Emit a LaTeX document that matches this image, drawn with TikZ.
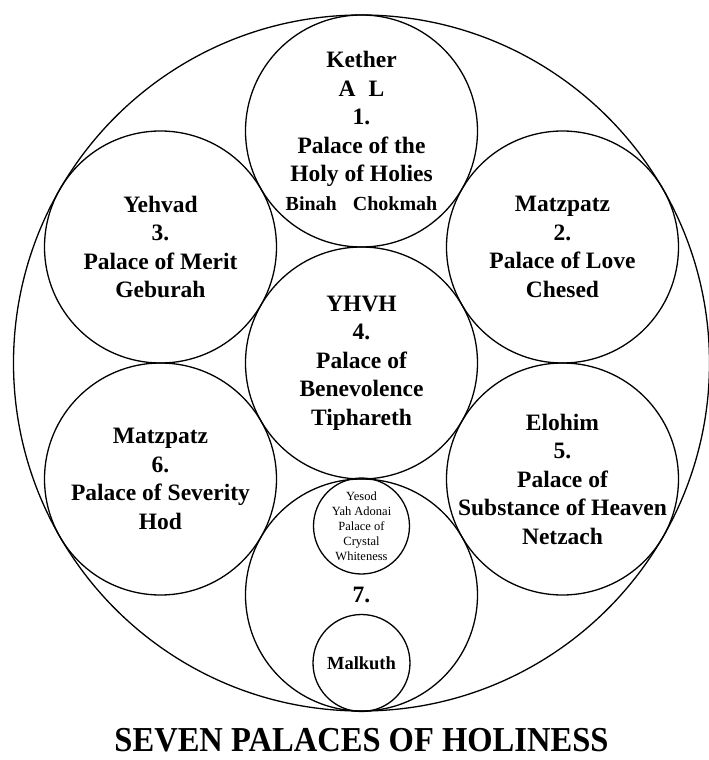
\documentclass[tikz,border=0pt]{standalone}
\usepackage{fontspec}
\setmainfont{Liberation Serif}
\newfontfamily\titlefont{Liberation Serif}[FakeStretch=0.93]

\begin{document}
\begin{tikzpicture}[x=1pt,y=1pt,line width=1.3pt,
  palace/.style={font=\bfseries\fontsize{23.5}{28.5}\selectfont, align=center, inner sep=0pt},
  smalltext/.style={font=\fontsize{12.5}{15}\selectfont, align=center, inner sep=0pt}]

\useasboundingbox (-361.5,-397) rectangle (347.5,363);

\coordinate (o) at (0,0);
\coordinate (p1) at (0,232);
\coordinate (p2) at (201,116);
\coordinate (p3) at (-201,116);
\coordinate (p4) at (0,0);
\coordinate (p5) at (201,-116);
\coordinate (p6) at (-201,-116);
\coordinate (p7) at (0,-232);
\coordinate (yesod) at (0,-163);
\coordinate (malkuth) at (0,-300);

\draw (o) circle (348pt);

\foreach \point in {p1,p2,p3,p4,p5,p6,p7}
  \draw (\point) circle (116pt);

\draw (yesod) circle (48pt);
\draw (malkuth) circle (48.5pt);

\node (t1) at (p1) [palace] {Kether\\A\hspace{0.55em}L\\1.\\Palace of the\\Holy of Holies\\{\fontsize{20}{24}\selectfont Binah\hspace{0.8em}Chokmah}};
\node (t2) at (p2) [palace] {Matzpatz\\2.\\Palace of Love\\Chesed};
\node (t3) at (p3) [palace] {Yehvad\\3.\\Palace of Merit\\Geburah};
\node (t4) at (p4) [palace] {YHVH\\4.\\Palace of\\Benevolence\\Tiphareth};
\node (t5) at (p5) [palace] {Elohim\\5.\\Palace of\\Substance of Heaven\\Netzach};
\node (t6) at (p6) [palace] {Matzpatz\\6.\\Palace of Severity\\Hod};
\node (t7) at (p7) [palace] {7.};
\node (tyesod) at (yesod) [smalltext] {Yesod\\Yah Adonai\\Palace of\\Crystal\\Whiteness};
\node (tmalkuth) at (malkuth) [palace, font=\bfseries\fontsize{18.5}{22}\selectfont] {Malkuth};

\node (title) at (0,-377) {\titlefont\bfseries\fontsize{35}{40}\selectfont SEVEN PALACES OF HOLINESS};
\end{tikzpicture}
\end{document}
